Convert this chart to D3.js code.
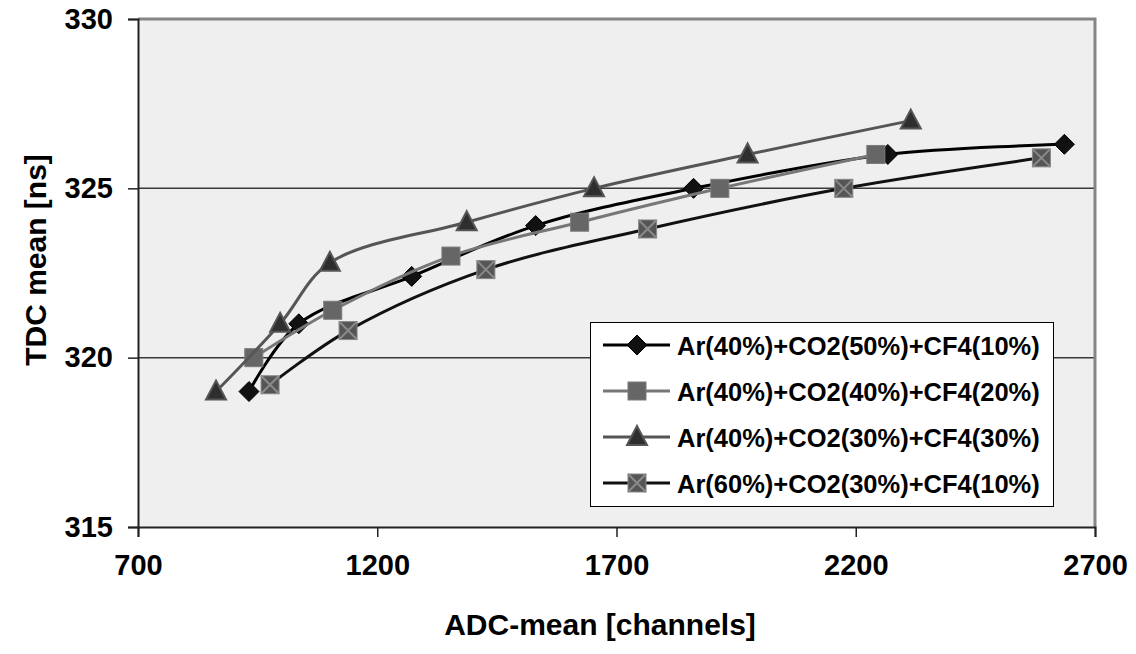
<!DOCTYPE html>
<html>
<head>
<meta charset="utf-8">
<script src="https://cdn.jsdelivr.net/npm/d3@7"></script>
<style>
  body { margin: 0; background: #fff; }
  text { font-family: Arial, 'Liberation Sans', sans-serif; font-weight: bold; fill: #000; }
</style>
</head>
<body>
<svg id="chart" width="1136" height="654"></svg>
<script>
// series names
const seriesNames = [
    'Ar(40%)+CO2(50%)+CF4(10%)',
    'Ar(40%)+CO2(40%)+CF4(20%)',
    'Ar(40%)+CO2(30%)+CF4(30%)',
    'Ar(60%)+CO2(30%)+CF4(10%)',
];

// ADC mean values (x) and TDC mean values (y)
const adc1 = [932, 1036, 1272, 1531, 1861, 2267, 2636];
const tdc1 = [319.0, 321.0, 322.4, 323.9, 325.0, 326.0, 326.3];

const adc2 = [942, 1107, 1354, 1623, 1916, 2242];
const tdc2 = [320.0, 321.4, 323.0, 324.0, 325.0, 326.0];

const adc3 = [863, 997, 1101, 1387, 1653, 1974, 2315];
const tdc3 = [319.0, 321.0, 322.8, 324.0, 325.0, 326.0, 327.0];

const adc4 = [976, 1139, 1427, 1765, 2175, 2588];
const tdc4 = [319.2, 320.8, 322.6, 323.8, 325.0, 325.9];

const xTicks = [700, 1200, 1700, 2200, 2700];
const yTicks = [315, 320, 325, 330];

const series = [
    { name: seriesNames[0], xs: adc1, ys: tdc1, line: '#000', marker: 'diamond' },
    { name: seriesNames[1], xs: adc2, ys: tdc2, line: '#777', marker: 'square' },
    { name: seriesNames[2], xs: adc3, ys: tdc3, line: '#555', marker: 'triangle' },
    { name: seriesNames[3], xs: adc4, ys: tdc4, line: '#111', marker: 'xsquare' },
];

const plot = { left: 138, right: 1095, top: 19, bottom: 527 };

const svg = d3.select('#chart');

const x = d3.scaleLinear().domain([700, 2700]).range([plot.left, plot.right]);
const y = d3.scaleLinear().domain([315, 330]).range([plot.bottom, plot.top]);

// plot background
svg.append('rect')
    .attr('x', plot.left).attr('y', plot.top)
    .attr('width', plot.right - plot.left).attr('height', plot.bottom - plot.top)
    .attr('fill', '#efefef');

// horizontal grid lines
svg.append('g')
    .selectAll('line')
    .data(yTicks.filter((t) => t > 315 && t < 330))
    .join('line')
    .attr('x1', plot.left).attr('x2', plot.right)
    .attr('y1', (d) => y(d)).attr('y2', (d) => y(d))
    .attr('stroke', '#3a3a3a').attr('stroke-width', 1.5);

// top and right frame in gray
svg.append('path')
    .attr('d', `M${plot.left},${plot.top}H${plot.right}V${plot.bottom}`)
    .attr('fill', 'none').attr('stroke', '#858585').attr('stroke-width', 3);

// axes
const xAxis = d3.axisBottom(x).tickValues(xTicks).tickSize(10).tickPadding(14).tickFormat(d3.format('d'));
const yAxis = d3.axisLeft(y).tickValues(yTicks).tickSize(10).tickPadding(14).tickFormat(d3.format('d'));

const gx = svg.append('g').attr('transform', `translate(0,${plot.bottom})`).call(xAxis);
const gy = svg.append('g').attr('transform', `translate(${plot.left},0)`).call(yAxis);

[gx, gy].forEach((g) => {
    g.select('.domain').attr('stroke', '#222').attr('stroke-width', 2);
    g.selectAll('.tick line').attr('stroke', '#222').attr('stroke-width', 1.5);
    g.selectAll('.tick text')
        .attr('font-family', "Arial, 'Liberation Sans', sans-serif")
        .attr('font-weight', 'bold')
        .attr('font-size', 29)
        .attr('fill', '#000');
});
gx.selectAll('.tick text').attr('dy', '0.71em').attr('y', 27);
gy.selectAll('.tick text').attr('x', -25);

// axis titles
svg.append('text')
    .attr('x', 600).attr('y', 635)
    .attr('text-anchor', 'middle')
    .attr('font-size', 30)
    .text('ADC-mean [channels]');

svg.append('text')
    .attr('transform', 'translate(46,260) rotate(-90)')
    .attr('text-anchor', 'middle')
    .attr('font-size', 30)
    .text('TDC mean [ns]');

// markers
function drawMarker(g, type, cx, cy) {
    if (type === 'diamond') {
        g.append('path')
            .attr('d', `M${cx},${cy - 10}L${cx + 10},${cy}L${cx},${cy + 10}L${cx - 10},${cy}Z`)
            .attr('fill', '#111').attr('stroke', '#000').attr('stroke-width', 1);
    } else if (type === 'square') {
        g.append('rect')
            .attr('x', cx - 9).attr('y', cy - 9).attr('width', 18).attr('height', 18)
            .attr('fill', '#666').attr('stroke', '#7a7a7a').attr('stroke-width', 1);
    } else if (type === 'triangle') {
        g.append('path')
            .attr('d', `M${cx},${cy - 11}L${cx + 10},${cy + 8}L${cx - 10},${cy + 8}Z`)
            .attr('fill', '#2e2e2e').attr('stroke', '#555').attr('stroke-width', 2);
    } else {
        g.append('rect')
            .attr('x', cx - 9).attr('y', cy - 9).attr('width', 18).attr('height', 18)
            .attr('fill', '#555').attr('stroke', '#888').attr('stroke-width', 1);
        g.append('path')
            .attr('d', `M${cx - 9},${cy - 9}L${cx + 9},${cy + 9}M${cx + 9},${cy - 9}L${cx - 9},${cy + 9}`)
            .attr('stroke', '#8a8a8a').attr('stroke-width', 2);
    }
}

const line = d3.line()
    .x((d) => x(d[0]))
    .y((d) => y(d[1]))
    .curve(d3.curveCatmullRom.alpha(0.5));

series.forEach((s) => {
    const pts = s.xs.map((v, i) => [v, s.ys[i]]);
    const g = svg.append('g');
    g.append('path')
        .datum(pts)
        .attr('d', line)
        .attr('fill', 'none')
        .attr('stroke', s.line)
        .attr('stroke-width', 3);
    pts.forEach((p) => drawMarker(g, s.marker, x(p[0]), y(p[1])));
});

// legend
const legend = svg.append('g');
legend.append('rect')
    .attr('x', 590.5).attr('y', 322.5).attr('width', 463).attr('height', 184)
    .attr('fill', '#fff').attr('stroke', '#000').attr('stroke-width', 1);

series.forEach((s, i) => {
    const cy = 345 + i * 46;
    legend.append('line')
        .attr('x1', 603).attr('x2', 670).attr('y1', cy).attr('y2', cy)
        .attr('stroke', s.line).attr('stroke-width', 3);
    drawMarker(legend, s.marker, 637, cy);
    legend.append('text')
        .attr('x', 677).attr('y', cy + 10)
        .attr('font-size', 25.5)
        .text(s.name);
});
</script>
</body>
</html>
